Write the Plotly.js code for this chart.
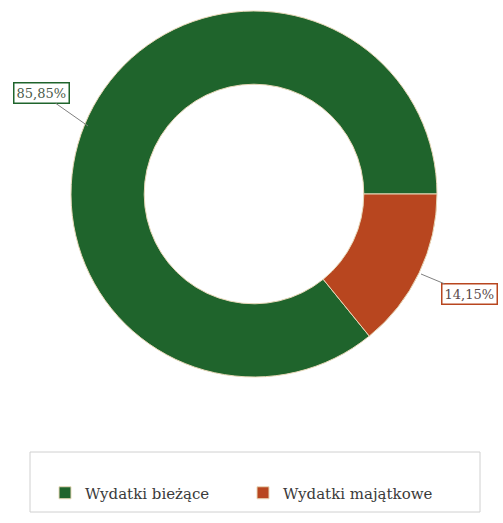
<!DOCTYPE html>
<html>
<head>
<meta charset="utf-8">
<script src="https://cdn.plot.ly/plotly-3.0.1.min.js"></script>
<style>html,body{margin:0;padding:0;background:#fff;}#chart{width:503px;height:523px;}</style>
</head>
<body>
<div id="chart"></div>
<script>
var categories = ["Wydatki bieżące", "Wydatki majątkowe"];
var shares = [85.85, 14.15];
var sliceColors = ["#1f642c", "#b8461f"];

var W = 503, H = 523;
function px(x) { return x / W; }
function py(y) { return 1 - y / H; }
function fmt(v) { return v.toFixed(2).replace(".", ",") + "%"; }

var total = shares[0] + shares[1];
var rotation = 90 + 360 * shares[1] / total;

var cx = 254, cy = 194, R = 183;
var serif = "DejaVu Serif";

var trace = {
  type: "pie",
  labels: categories,
  values: shares,
  sort: false,
  direction: "clockwise",
  rotation: rotation,
  hole: 0.6,
  textinfo: "none",
  hoverinfo: "label+percent",
  marker: { colors: sliceColors, line: { color: "#e8d8b8", width: 1 } },
  domain: { x: [px(cx - R), px(cx + R)], y: [py(cy + R), py(cy - R)] }
};

var layout = {
  width: W, height: H,
  margin: { l: 0, r: 0, t: 0, b: 0 },
  paper_bgcolor: "#ffffff",
  font: { family: serif },
  showlegend: true,
  legend: {
    orientation: "h",
    x: px(45), xanchor: "left",
    y: py(493), yanchor: "middle",
    entrywidth: 153,
    font: { family: serif, size: 15, color: "#3a3a3a" },
    bgcolor: "rgba(0,0,0,0)"
  },
  shapes: [{
    type: "rect", xref: "paper", yref: "paper",
    x0: px(30), x1: px(480), y0: py(512), y1: py(452),
    line: { color: "#d0d0d0", width: 1 }
  }],
  annotations: [
    {
      xref: "paper", yref: "paper",
      x: px(88), y: py(126),
      ax: -47, ay: -33,
      text: fmt(shares[0]),
      showarrow: true, arrowhead: 0, arrowwidth: 1, arrowcolor: "#808080",
      bordercolor: sliceColors[0], borderwidth: 1.5, borderpad: 2,
      bgcolor: "#ffffff",
      font: { family: serif, size: 13, color: "#4a5a4a" }
    },
    {
      xref: "paper", yref: "paper",
      x: px(421), y: py(274),
      ax: 48, ay: 20,
      text: fmt(shares[1]),
      showarrow: true, arrowhead: 0, arrowwidth: 1, arrowcolor: "#808080",
      bordercolor: sliceColors[1], borderwidth: 1.5, borderpad: 2,
      bgcolor: "#ffffff",
      font: { family: serif, size: 13, color: "#5a4a4a" }
    }
  ]
};

Plotly.newPlot("chart", [trace], layout, { displayModeBar: false, staticPlot: true });
</script>
</body>
</html>
